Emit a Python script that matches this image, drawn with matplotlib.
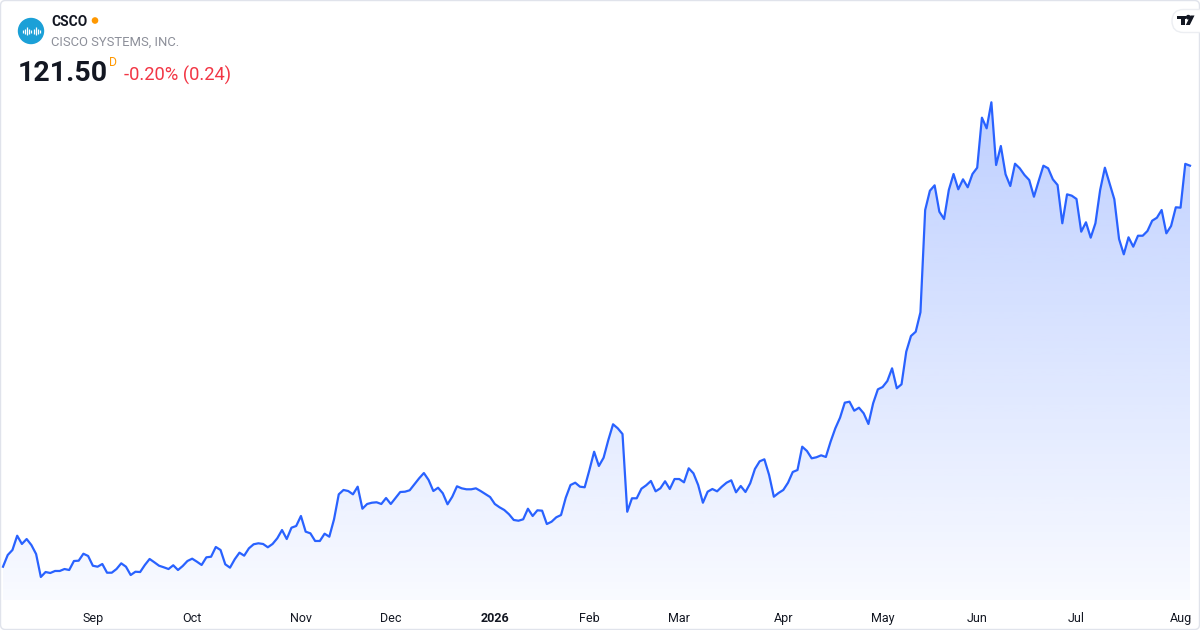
import numpy as np
import pandas as pd
import matplotlib
matplotlib.use("Agg")
import matplotlib.pyplot as plt
from matplotlib.patches import Circle, FancyBboxPatch, Polygon, Rectangle
from matplotlib.colors import to_rgb

plt.rcParams["font.family"] = ["Roboto", "DejaVu Sans"]

# ---------------- data ----------------
symbol = "CSCO"
company = "CISCO SYSTEMS, INC."
last_price = "121.50"
interval_flag = "D"
change_text = "-0.20% (0.24)"

start_date = "2025-08-05"
end_date = "2026-08-05"
market_holidays = ["2025-09-01", "2025-11-27", "2025-12-25", "2026-01-01", "2026-01-19",
                   "2026-02-16", "2026-04-03", "2026-05-25", "2026-06-19", "2026-07-03"]

close_prices = [
    68.03, 69.59, 70.26, 72.16, 71.06, 71.72, 70.92, 69.72, 66.66, 67.32,
    67.19, 67.46, 67.46, 67.72, 67.59, 68.79, 68.83, 69.76, 69.46, 68.16,
    68.03, 68.39, 67.23, 67.23, 67.72, 68.48, 68.03, 66.92, 67.36, 67.32,
    68.26, 69.06, 68.62, 68.16, 67.95, 67.72, 68.22, 67.59, 68.12, 68.79,
    69.10, 68.70, 68.26, 69.28, 69.36, 70.66, 70.26, 68.35, 67.90, 69.02,
    69.90, 69.50, 70.48, 71.02, 71.15, 71.06, 70.62, 71.06, 71.82, 72.92,
    71.72, 73.23, 73.46, 74.79, 72.70, 72.48, 71.46, 71.46, 72.43, 72.03,
    74.35, 77.68, 78.26, 78.12, 77.68, 78.70, 75.76, 76.39, 76.56, 76.62,
    76.39, 77.19, 76.39, 77.19, 77.99, 78.03, 78.22, 79.02, 79.82, 80.52,
    79.59, 78.12, 78.56, 77.82, 76.35, 77.36, 78.75, 78.48, 78.35, 78.35,
    78.48, 78.12, 77.72, 77.32, 76.39, 75.95, 75.59, 75.02, 74.26, 74.16,
    74.35, 75.76, 74.79, 75.55, 75.50, 73.72, 74.03, 74.62, 74.92, 77.23,
    78.92, 79.23, 78.70, 78.62, 80.92, 83.36, 81.46, 82.56, 84.92, 87.02,
    86.48, 85.72, 75.36, 77.15, 77.15, 78.43, 78.88, 79.46, 78.08, 78.48,
    79.42, 78.39, 79.72, 79.72, 79.28, 81.15, 80.48, 78.92, 76.56, 78.03,
    78.39, 78.08, 78.70, 79.23, 79.55, 77.95, 78.79, 77.99, 79.15, 81.06,
    82.08, 82.35, 80.26, 77.36, 77.86, 78.26, 79.23, 80.66, 80.92, 84.03,
    83.46, 82.48, 82.62, 82.88, 82.66, 84.70, 86.48, 87.90, 89.90, 90.03,
    88.83, 89.23, 88.48, 87.06, 89.82, 91.68, 91.99, 92.79, 94.48, 91.82,
    92.35, 96.70, 98.79, 99.36, 101.95, 115.59, 118.16, 118.88, 115.36, 114.39,
    118.26, 120.39, 118.35, 119.68, 118.62, 120.39, 121.23, 127.90, 126.48, 129.95,
    121.59, 124.12, 120.35, 118.79, 121.76, 121.15, 120.26, 119.59, 117.36, 119.46,
    121.50, 121.15, 119.68, 118.92, 113.82, 117.68, 117.50, 117.06, 112.70, 113.95,
    111.90, 113.82, 118.26, 121.23, 119.15, 117.02, 111.72, 109.68, 111.95, 110.70,
    112.16, 112.16, 112.79, 114.16, 114.56, 115.59, 112.48, 113.46, 115.95, 115.90,
    121.74, 121.50,
]

month_labels = ["Sep", "Oct", "Nov", "Dec", "2026", "Feb", "Mar", "Apr", "May", "Jun", "Jul", "Aug"]

# ---------------- derived ----------------
dates = pd.bdate_range(start_date, end_date)
dates = dates[~dates.isin(pd.to_datetime(market_holidays))]
n = min(len(dates), len(close_prices))
dates = dates[:n]
prices = np.array(close_prices[:n])
idx = np.arange(n)
mkey = (dates.year * 12 + dates.month).to_numpy()
first_idx = idx[np.r_[False, mkey[1:] != mkey[:-1]]]

# ---------------- figure ----------------
W, H = 1200, 630
fig = plt.figure(figsize=(W / 100, H / 100), dpi=100)
fig.patch.set_facecolor("white")

ax = fig.add_axes([0, 30 / H, 1, 600 / H])
ax.set_facecolor("white")

step = 1187 / (n - 1)
x0, x1 = -3 / step, (n - 1) + 10 / step
y0, y1 = 63.59, 143.59

line_color = "#2962ff"
# gradient area fill
poly = ax.fill_between(idx, prices, y0, facecolor="none", edgecolor="none")
gn = 256
rgba = np.zeros((gn, 1, 4))
rgba[..., :3] = to_rgb(line_color)
rgba[:, 0, 3] = np.linspace(0.03, 0.36, gn)
im = ax.imshow(rgba, extent=[idx[0], idx[-1], y0, y1], origin="lower",
               aspect="auto", zorder=1, interpolation="bilinear")
im.set_clip_path(poly.get_paths()[0], transform=ax.transData)

ax.plot(idx, prices, color=line_color, lw=1.6, zorder=3, solid_joinstyle="round")

ax.set_xlim(x0, x1)
ax.set_ylim(y0, y1)
ax.set_yticks([])
ax.set_xticks(first_idx)
ax.set_xticklabels(month_labels[:len(first_idx)])
ax.tick_params(axis="x", length=0, pad=8.5, labelsize=9, labelcolor="#131722")
for lbl in ax.get_xticklabels():
    if lbl.get_text().isdigit():
        lbl.set_fontweight("bold")
for s in ax.spines.values():
    s.set_visible(False)

# ---------------- overlay (pixel coords) ----------------
ov = fig.add_axes([0, 0, 1, 1])
ov.set_xlim(0, W)
ov.set_ylim(H, 0)
ov.axis("off")

# outer rounded border
ov.add_patch(FancyBboxPatch((0.5, 0.5), W - 1, H - 1,
                            boxstyle="round,pad=0,rounding_size=5",
                            fc="none", ec="#e0e3eb", lw=1))

# logo
ov.add_patch(Circle((31, 31), 12.5, color="#1ba0d7"))
bar_x = np.arange(23, 40.1, 2.1)
bar_h = [1.5, 2.5, 3.8, 2.5, 1.5, 2.5, 3.8, 2.5, 1.5]
for bx, bh in zip(bar_x, bar_h):
    ov.plot([bx, bx], [31 - bh, 31 + bh], color="white", lw=0.9, solid_capstyle="butt")

ov.text(51, 26, symbol, fontsize=9.9, fontweight="bold", color="#131722", va="baseline", ha="left")
ov.add_patch(Circle((95, 20.5), 2.6, color="#ff9800"))
ov.text(51, 46, company, fontsize=9.4, color="#8c8f99", va="baseline", ha="left")
ov.text(18, 81, last_price, fontsize=20.5, fontweight="bold", color="#131722", va="baseline", ha="left")
ov.text(109.5, 65.5, interval_flag, fontsize=8.8, color="#ff9800", va="baseline", ha="left")
ov.text(124, 81, change_text, fontsize=13.2, color="#f23645", va="baseline", ha="left")

# TradingView badge
ov.add_patch(FancyBboxPatch((1172, 9.5), 40, 23, boxstyle="round,pad=0,rounding_size=11.5",
                            fc="white", ec="#eceef2", lw=1))
ov.add_patch(Rectangle((1177, 15.5), 9, 3.4, color="#131722", lw=0))
ov.add_patch(Rectangle((1181.2, 15.5), 3.8, 9.5, color="#131722", lw=0))
ov.add_patch(Circle((1188.3, 17.2), 1.7, color="#131722"))
ov.add_patch(Polygon([(1190.5, 15.5), (1194.5, 15.5), (1189.8, 25), (1185.8, 25)],
                     closed=True, color="#131722", lw=0))

fig.savefig("out.png", dpi=100, facecolor="white")
